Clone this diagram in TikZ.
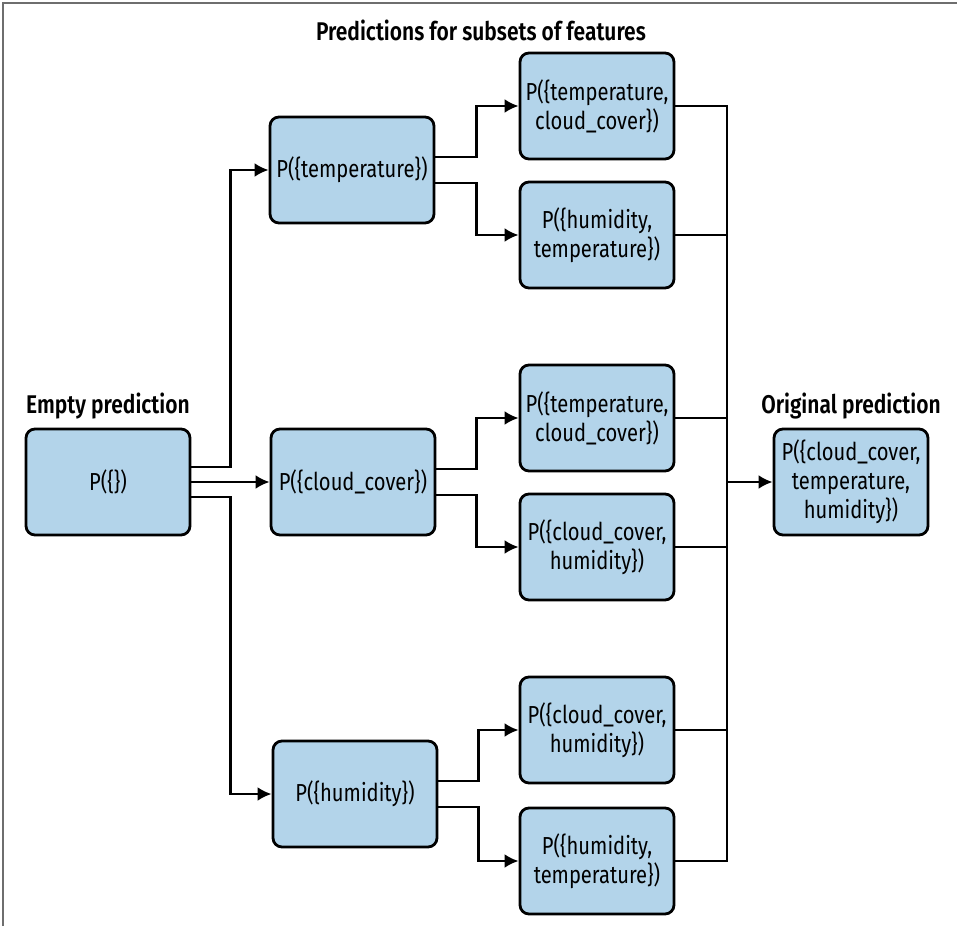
\documentclass[tikz,border=0pt]{standalone}
\usepackage{fontspec}
\setmainfont{Fira Sans}[FakeStretch=0.82, BoldFont={Fira Sans SemiBold}]
\usetikzlibrary{arrows.meta,positioning}

\definecolor{boxblue}{RGB}{179,212,234}
\definecolor{framegray}{RGB}{110,110,110}

\tikzset{
  box/.style={draw, line width=1.4pt, fill=boxblue, rounded corners=4.5pt,
    align=center, inner sep=2pt, font=\fontsize{12.3}{14.5}\selectfont},
  single/.style={box, minimum width=82pt, minimum height=53pt},
  pair/.style={box, minimum width=77pt, minimum height=53pt},
  heading/.style={font=\fontsize{12.8}{15}\selectfont\bfseries, inner sep=1pt},
  link/.style={line width=1.4pt, -{Latex[length=7pt,width=7pt]}},
  wire/.style={line width=1.4pt},
}

\begin{document}
\begin{tikzpicture}[x=0.5pt,y=-0.5pt]
\useasboundingbox (0,0) rectangle (957,926);
\draw[framegray, line width=0.7pt] (3,926) -- (3,3) -- (957,3);

% start and end
\node[single] (empty) at (108,482) {P(\{\})};
\node[heading, above=3pt of empty] (emptylbl) {Empty prediction};
\node[pair] (orig) at (851,482) {P(\{cloud\_cover,\\temperature,\\humidity\})};
\node[heading, above=3pt of orig] (origlbl) {Original prediction};

% one feature
\node[single] (temp) at (352,170) {P(\{temperature\})};
\node[single] (cloud) at (353,482) {P(\{cloud\_cover\})};
\node[single] (hum) at (355,794) {P(\{humidity\})};

% two features
\node[heading] (title) at (481,30) {Predictions for subsets of features};
\node[pair] (tempcloud) at (597,106) {P(\{temperature,\\cloud\_cover\})};
\node[pair] (humtemp) at (597,235) {P(\{humidity,\\temperature\})};
\node[pair] (tempcloudb) at (597,418) {P(\{temperature,\\cloud\_cover\})};
\node[pair] (cloudhum) at (597,547) {P(\{cloud\_cover,\\humidity\})};
\node[pair] (cloudhumb) at (597,730) {P(\{cloud\_cover,\\humidity\})};
\node[pair] (humtempb) at (597,861) {P(\{humidity,\\temperature\})};

% from the empty prediction
\draw[link] ([yshift=7.5pt]empty.east) -- ++(39,0) |- (temp.west);
\draw[link] (empty) -- (cloud);
\draw[link] ([yshift=-7.5pt]empty.east) -- ++(39,0) |- (hum.west);

% from one feature to two
\draw[link] ([yshift=6.5pt]temp.east) -- ++(41,0) |- (tempcloud.west);
\draw[link] ([yshift=-6.5pt]temp.east) -- ++(41,0) |- (humtemp.west);
\draw[link] ([yshift=6.5pt]cloud.east) -- ++(40,0) |- (tempcloudb.west);
\draw[link] ([yshift=-6.5pt]cloud.east) -- ++(40,0) |- (cloudhum.west);
\draw[link] ([yshift=6.5pt]hum.east) -- ++(40,0) |- (cloudhumb.west);
\draw[link] ([yshift=-6.5pt]hum.east) -- ++(40,0) |- (humtempb.west);

% gather into the original prediction
\coordinate (bustop) at (727,106);
\coordinate (busbot) at (727,861);
\draw[wire] (tempcloud.east) -| (busbot) -- (humtempb.east);
\foreach \n in {humtemp,tempcloudb,cloudhum,cloudhumb}
  \draw[wire] (\n.east) -- (\n.east -| bustop);
\draw[link] (orig.west -| bustop) -- (orig.west);
\end{tikzpicture}
\end{document}
